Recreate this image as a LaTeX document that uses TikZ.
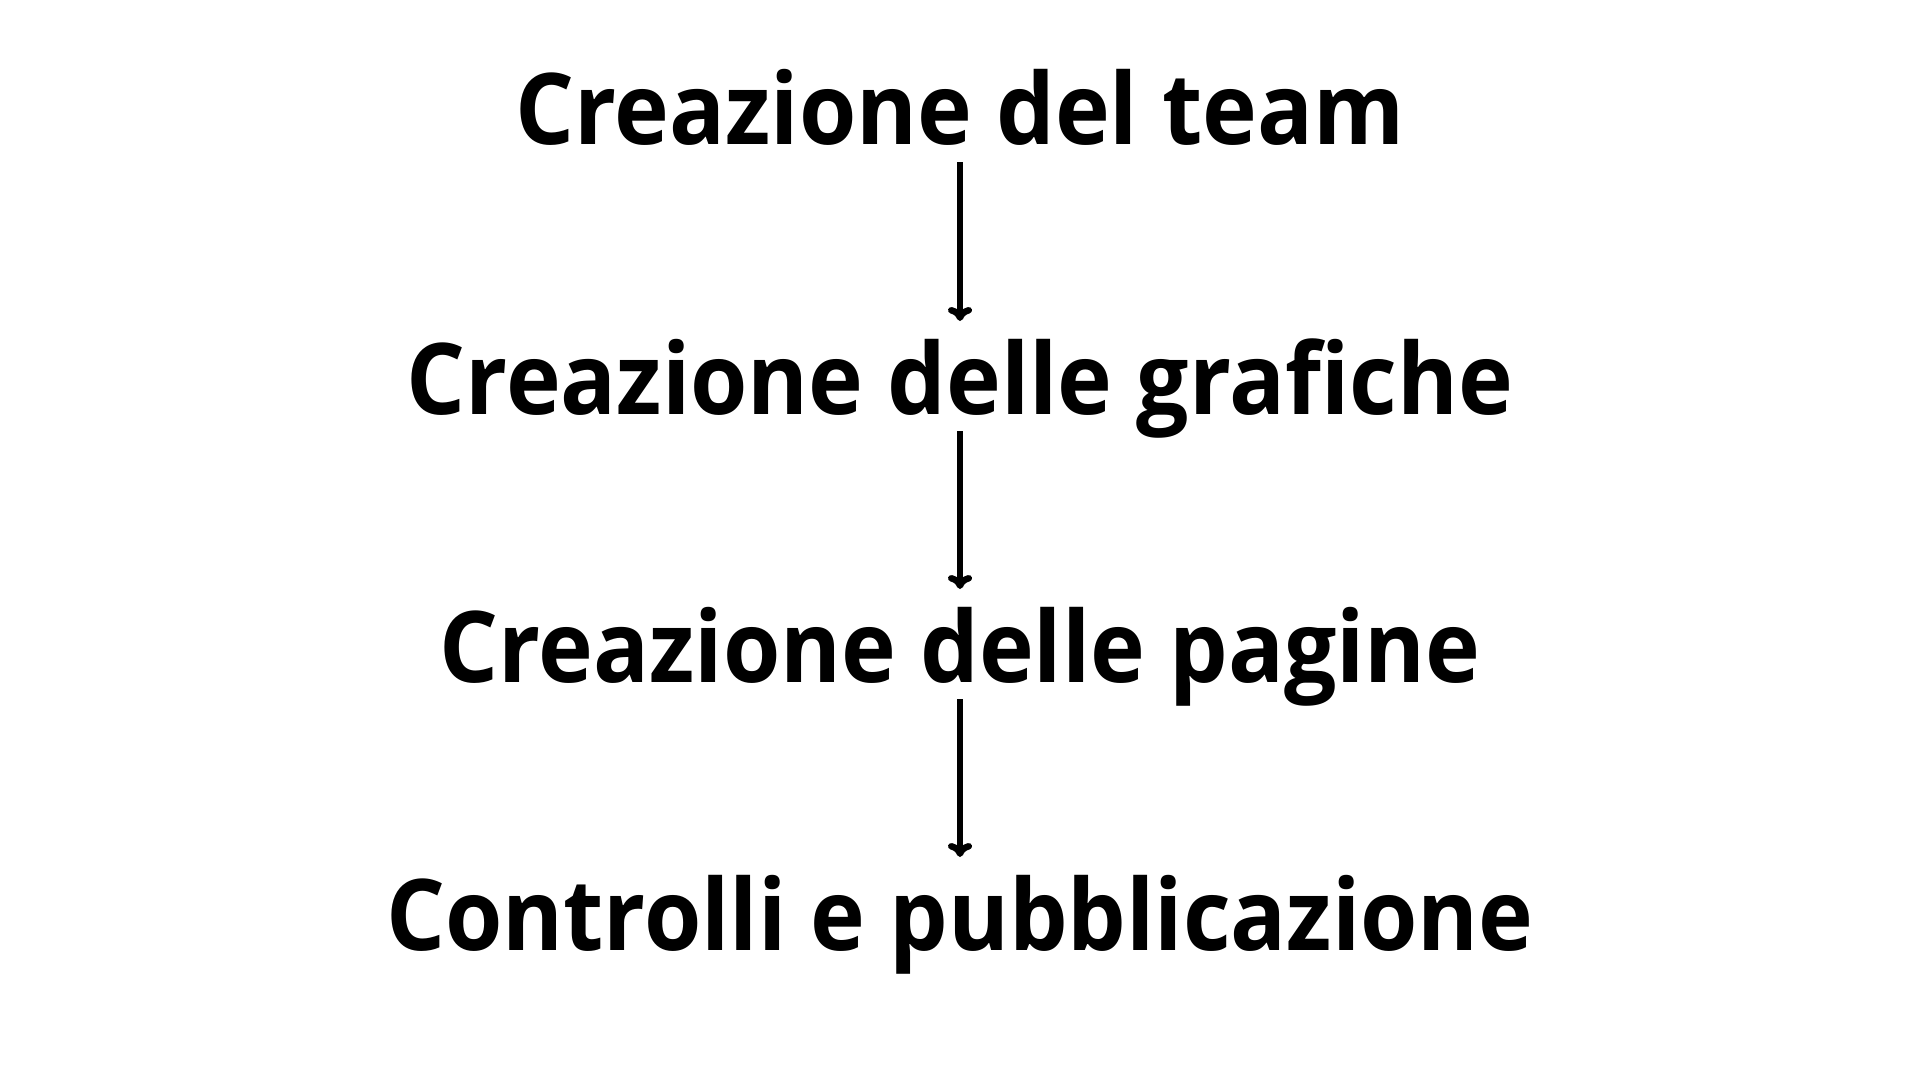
\documentclass[tikz,border=0pt]{standalone}
\usepackage{fontspec}
\setmainfont{Open Sans}
\usetikzlibrary{arrows.meta}
\newcommand{\narrowtxt}[1]{\scalebox{0.937}[1]{#1}}
\begin{document}
\begin{tikzpicture}[x=1pt,y=-1pt,
  steplabel/.style={anchor=base,inner sep=0pt,font=\fontsize{99}{120}\selectfont\bfseries},
  flow/.style={line width=6.5pt,-{To[length=14pt,width=24pt]}}]
\useasboundingbox[fill=white] (0,0) rectangle (1920,1080);
\node[steplabel] (a) at (960,144.5) {\narrowtxt{Creazione del team}};
\node[steplabel] (b) at (960,414) {\narrowtxt{Creazione delle grafiche}};
\node[steplabel] (c) at (960,682) {\narrowtxt{Creazione delle pagine}};
\node[steplabel] (d) at (960,950) {\narrowtxt{Controlli e pubblicazione}};
\coordinate (a1) at (960,162); \coordinate (a2) at (960,321);
\coordinate (b1) at (960,431); \coordinate (b2) at (960,589);
\coordinate (c1) at (960,699); \coordinate (c2) at (960,857);
\draw[flow] (a1) -- (a2);
\draw[flow] (b1) -- (b2);
\draw[flow] (c1) -- (c2);
\end{tikzpicture}
\end{document}
